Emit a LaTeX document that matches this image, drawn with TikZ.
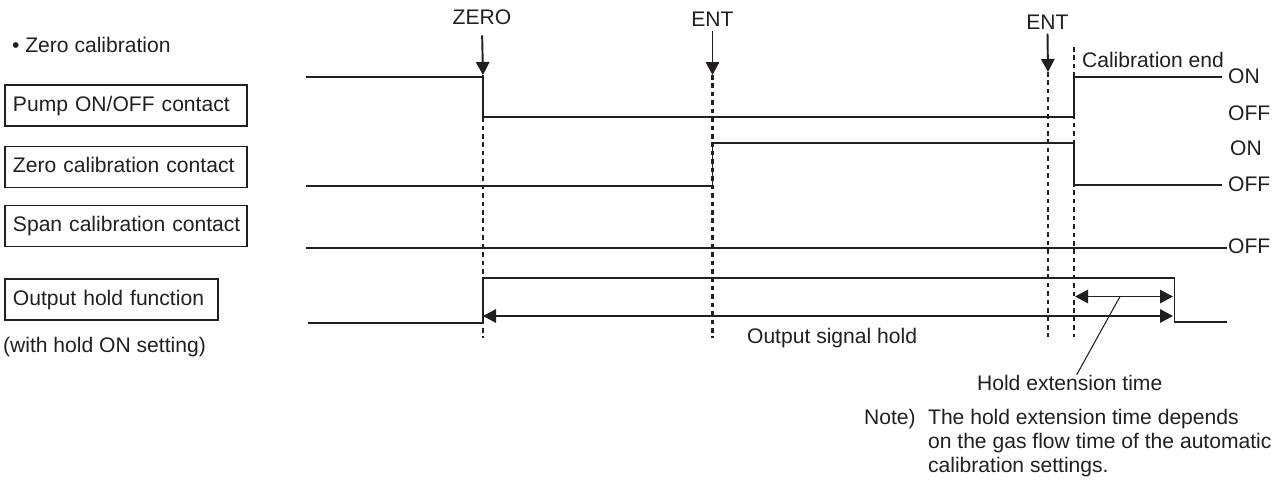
\documentclass[tikz,border=0pt]{standalone}
\usepackage{fontspec}
\setmainfont{Liberation Sans}
\usetikzlibrary{arrows.meta}
\definecolor{ink}{HTML}{231F20}
\begin{document}
\begin{tikzpicture}[x=0.02cm, y=-0.02cm, >={Triangle[length=7.4pt,width=7.6pt]},
		every node/.style={font=\fontsize{12}{14}\selectfont, text=ink, inner sep=1pt, text height=1.5ex, text depth=.25ex},
		tag/.style={anchor=west},
		label box/.style={draw=ink, line width=1.1pt, anchor=west, inner xsep=0.16cm, minimum height=0.82cm, text width=4.52cm},
		signal/.style={draw=ink, line width=1.1pt},
		guide/.style={draw=ink, line width=1.2pt, dash pattern=on 2.6pt off 2.2pt}]
	\useasboundingbox (0,0) rectangle (1281,485);
	\node[tag] (title) at (10,47) {• Zero calibration};
	\node[label box] (pump) at (4,105.5) {Pump ON/OFF contact};
	\node[label box] (zerocal) at (4,167) {Zero calibration contact};
	\node[label box] (spancal) at (4,226) {\mbox{Span calibration contact}};
	\node[label box, text width=3.94cm] (hold) at (4,299.5) {Output hold function};
	\node[tag] (holdset) at (1,347) {(with hold ON setting)};
	\node (zero) at (482,19) {ZERO};
	\node (ent1) at (712.5,21) {ENT};
	\node (ent2) at (1047.5,23.5) {ENT};
	\coordinate (tZ) at (483,75);
	\coordinate (tE1) at (712.5,75);
	\coordinate (tE2) at (1048,72);
	\coordinate (tC) at (1074,47);
	\draw[->, signal, shorten <=3.5pt] (zero.south) -- (tZ);
	\draw[->, signal] (ent1.south) -- (tE1);
	\draw[->, signal] (ent2.south) -- (tE2);
	\draw[guide] (tZ) -- (483,338);
	\draw[guide] (tE1) -- (712.5,338);
	\draw[guide] (tE2) -- (1048,337);
	\draw[guide] (tC) -- (1074,337);
	\draw[signal] (306,77) -- (483,77) -- (483,117) -- (1074,117) -- (1074,77) -- (1222,77);
	\draw[signal] (306,186) -- (712.5,186) -- (712.5,143) -- (1074,143) -- (1074,185) -- (1222,185);
	\draw[signal] (306,248) -- (1227,248);
	\draw[signal] (308,323) -- (483,323) -- (483,278) -- (1174.5,278) -- (1174.5,322) -- (1227,322);
	\node[tag] (calend) at (1080,62) {Calibration end};
	\node[tag] (pumpon) at (1226,78) {ON};
	\node[tag] (pumpoff) at (1226,114.5) {OFF};
	\node[tag] (zeroon) at (1228,150) {ON};
	\node[tag] (zerooff) at (1226,185.5) {OFF};
	\node[tag] (spanoff) at (1226,248) {OFF};
	\coordinate (hS) at (483,316);
	\coordinate (hE) at (1173,316);
	\coordinate (xS) at (1075,296.5);
	\coordinate (xE) at (1173,296.5);
	\draw[<->, signal] (hS) -- (hE);
	\draw[<->, signal] (xS) -- (xE);
	\node[tag] (sighold) at (745,338) {Output signal hold};
	\node[tag] (holdext) at (975,385) {Hold extension time};
	\coordinate (xMid) at (1120,296.5);
	\draw[draw=ink, line width=0.6pt] (xMid) -- ([xshift=0.14cm]holdext.north);
	\node[tag] (note) at (862,418.5) {Note)};
	\node[tag] (note1) at (926,418.5) {The hold extension time depends};
	\node[tag] (note2) at (926,442.5) {on the gas flow time of the automatic};
	\node[tag] (note3) at (926,467) {calibration settings.};
\end{tikzpicture}
\end{document}
